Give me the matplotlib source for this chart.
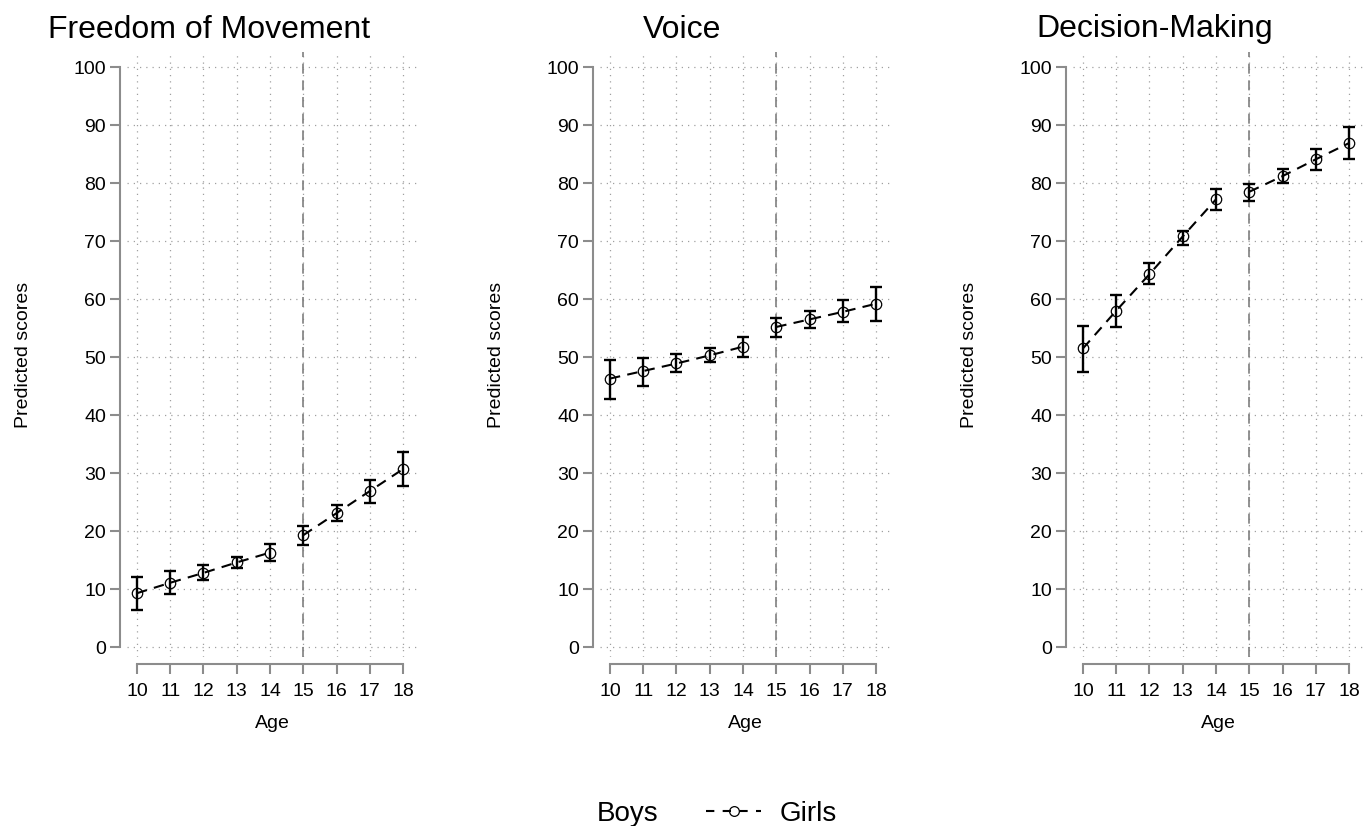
import numpy as np
import matplotlib.pyplot as plt
from matplotlib.lines import Line2D

plt.rcParams['font.family'] = ['Liberation Sans', 'DejaVu Sans']

# ages and cut-off (vertical dashed line / break in the line)
ages = np.array([10, 11, 12, 13, 14, 15, 16, 17, 18])
cutoff = 15

titles = ["Freedom of Movement", "Voice", "Decision-Making"]

# Girls: predicted score with lower/upper CI
fom_mean = np.array([9.3, 11.1, 12.8, 14.6, 16.3, 19.3, 23.1, 26.9, 30.7])
fom_lo = np.array([6.4, 9.1, 11.5, 13.6, 14.9, 17.6, 21.7, 24.9, 27.7])
fom_hi = np.array([12.1, 13.1, 14.2, 15.5, 17.8, 20.9, 24.5, 28.9, 33.7])

voice_mean = np.array([46.3, 47.6, 48.9, 50.3, 51.8, 55.2, 56.5, 57.8, 59.2])
voice_lo = np.array([42.8, 45.1, 47.4, 49.2, 50.1, 53.5, 55.0, 56.0, 56.2])
voice_hi = np.array([49.5, 49.9, 50.5, 51.5, 53.4, 56.8, 57.9, 59.8, 62.1])

dm_mean = np.array([51.5, 58.0, 64.3, 70.8, 77.2, 78.5, 81.2, 84.1, 86.9])
dm_lo = np.array([47.5, 55.2, 62.6, 69.4, 75.3, 76.9, 80.0, 82.2, 84.1])
dm_hi = np.array([55.4, 60.7, 66.2, 71.8, 79.0, 79.9, 82.5, 85.9, 89.6])

series = [(fom_mean, fom_lo, fom_hi),
          (voice_mean, voice_lo, voice_hi),
          (dm_mean, dm_lo, dm_hi)]

yticks = np.arange(0, 101, 10)

W, H = 1363, 826
fig = plt.figure(figsize=(W / 100, H / 100), dpi=100)

spine_col = '#8c8c8c'
grid_col = '#a0a0a0'

for i, (mean, lo, hi) in enumerate(series):
    left = 127 + 473 * i
    ax = fig.add_axes([left / W, 1 - 657 / H, 291 / W, 605 / H])

    ax.errorbar(ages, mean, yerr=[mean - lo, hi - mean], fmt='none',
                ecolor='black', elinewidth=1.7, capsize=4, capthick=1.7, zorder=3)
    pre = ages < cutoff
    for m in (pre, ~pre):
        ax.plot(ages[m], mean[m], color='black', ls=(0, (5, 3.5)), lw=1.5,
                marker='o', ms=7.5, mfc='none', mec='black', mew=0.9, zorder=4)

    ax.axvline(cutoff, color='#7f7f7f', ls=(0, (6, 4)), lw=1.2, zorder=2)

    ax.set_xlim(9.7, 18.45)
    ax.set_ylim(-1.7, 102.6)
    ax.set_xticks(ages)
    ax.set_yticks(yticks)

    ax.grid(True, ls=(0, (1, 4)), color=grid_col, lw=0.9)
    ygl = ax.get_ygridlines()
    ygl[0].set_visible(False)
    ygl[-1].set_visible(False)

    for s in ('top', 'right'):
        ax.spines[s].set_visible(False)
    ax.spines['left'].set_position(('outward', 5))
    ax.spines['bottom'].set_position(('outward', 5))
    ax.spines['left'].set_bounds(0, 100)
    ax.spines['bottom'].set_bounds(10, 18)
    for s in ('left', 'bottom'):
        ax.spines[s].set_color(spine_col)
        ax.spines[s].set_linewidth(1.5)
    ax.tick_params(axis='both', colors=spine_col, labelcolor='black',
                   labelsize=14, width=1.5, length=7)
    ax.tick_params(axis='y', pad=3)
    ax.tick_params(axis='x', pad=6.5)

    ax.set_xlabel("Age", fontsize=14, labelpad=11)
    ax.set_ylabel("Predicted scores", fontsize=14, labelpad=30)

    cx = (left - 127 + left + 291) / 2
    fig.text(cx / W, 1 - 37.5 / H, titles[i], ha='center', va='baseline', fontsize=23)

handles = [Line2D([], [], color='none'),
           Line2D([], [], color='black', ls=(0, (4, 4)), lw=1.5, marker='o',
                  ms=7, mfc='none', mec='black', mew=0.9)]
fig.legend(handles, ["Boys", "Girls"], loc='center', ncol=2,
           bbox_to_anchor=(680 / W, 1 - 814 / H), frameon=False,
           fontsize=20, handlelength=2.0, columnspacing=1.7, handletextpad=0.65)

fig.savefig("out.png", dpi=100)
